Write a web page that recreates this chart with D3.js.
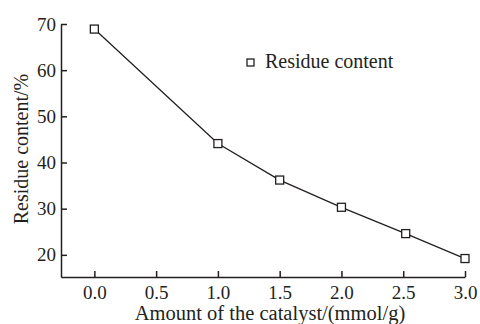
<!DOCTYPE html>
<html>
<head>
<script src="https://cdn.jsdelivr.net/npm/d3@7"></script>
<style>
  body { margin: 0; background: #fff; }
  text { font-family: "Liberation Serif", "Times New Roman", serif; fill: #231f20; }
</style>
</head>
<body>
<script>
var w = 480, h = 324;
var amount = [0.0, 1.0, 1.5, 2.0, 2.52, 3.0];
var residue = [68.9, 44.1, 36.2, 30.3, 24.6, 19.2];
var xTicks = [0.0, 0.5, 1.0, 1.5, 2.0, 2.5, 3.0];
var yTicks = [20, 30, 40, 50, 60, 70];
var ink = "#231f20";

var svg = d3.select("body").append("svg")
  .attr("width", w).attr("height", h);

var x = d3.scaleLinear().domain([-0.27, 3.0]).range([61, 465]);
var y = d3.scaleLinear().domain([15.2, 70]).range([277, 24]);

// x axis
var xAxis = d3.axisBottom(x).tickValues(xTicks)
  .tickFormat(d3.format(".1f")).tickSizeInner(-6).tickSizeOuter(0).tickPadding(9);
var gx = svg.append("g").attr("transform", "translate(0," + y(15.2) + ")").call(xAxis);

// y axis
var yAxis = d3.axisLeft(y).tickValues(yTicks)
  .tickSizeInner(-6).tickSizeOuter(0).tickPadding(5);
var gy = svg.append("g").attr("transform", "translate(" + x(-0.27) + ",0)").call(yAxis);

[gx, gy].forEach(function (g) {
  g.select(".domain").attr("stroke", ink).attr("stroke-width", 1.5);
  g.selectAll(".tick line").attr("stroke", ink).attr("stroke-width", 1.5);
  g.selectAll(".tick text").attr("font-size", 19)
    .style("font-family", "Liberation Serif, serif").attr("fill", ink);
});

var pts = amount.map(function (a, i) { return [a, residue[i]]; });

svg.append("path")
  .datum(pts)
  .attr("fill", "none")
  .attr("stroke", ink)
  .attr("stroke-width", 1.3)
  .attr("d", d3.line().x(function (d) { return x(d[0]); }).y(function (d) { return y(d[1]); }));

var s = 8;
svg.selectAll("rect.mk")
  .data(pts)
  .enter()
  .append("rect")
  .attr("class", "mk")
  .attr("x", function (d) { return x(d[0]) - s / 2; })
  .attr("y", function (d) { return y(d[1]) - s / 2; })
  .attr("width", s).attr("height", s)
  .attr("fill", "#fff").attr("stroke", ink).attr("stroke-width", 1.3);

// legend
svg.append("rect")
  .attr("x", 247).attr("y", 59).attr("width", 7).attr("height", 7)
  .attr("fill", "#fff").attr("stroke", ink).attr("stroke-width", 1.3);
svg.append("text")
  .attr("x", 265).attr("y", 68)
  .attr("font-size", 20)
  .text("Residue content");

// axis titles
svg.append("text")
  .attr("x", 270).attr("y", 320)
  .attr("text-anchor", "middle")
  .attr("font-size", 20.5)
  .text("Amount of the catalyst/(mmol/g)");

svg.append("text")
  .attr("transform", "translate(28,149) rotate(-90)")
  .attr("text-anchor", "middle")
  .attr("font-size", 20)
  .text("Residue content/%");
</script>
</body>
</html>
